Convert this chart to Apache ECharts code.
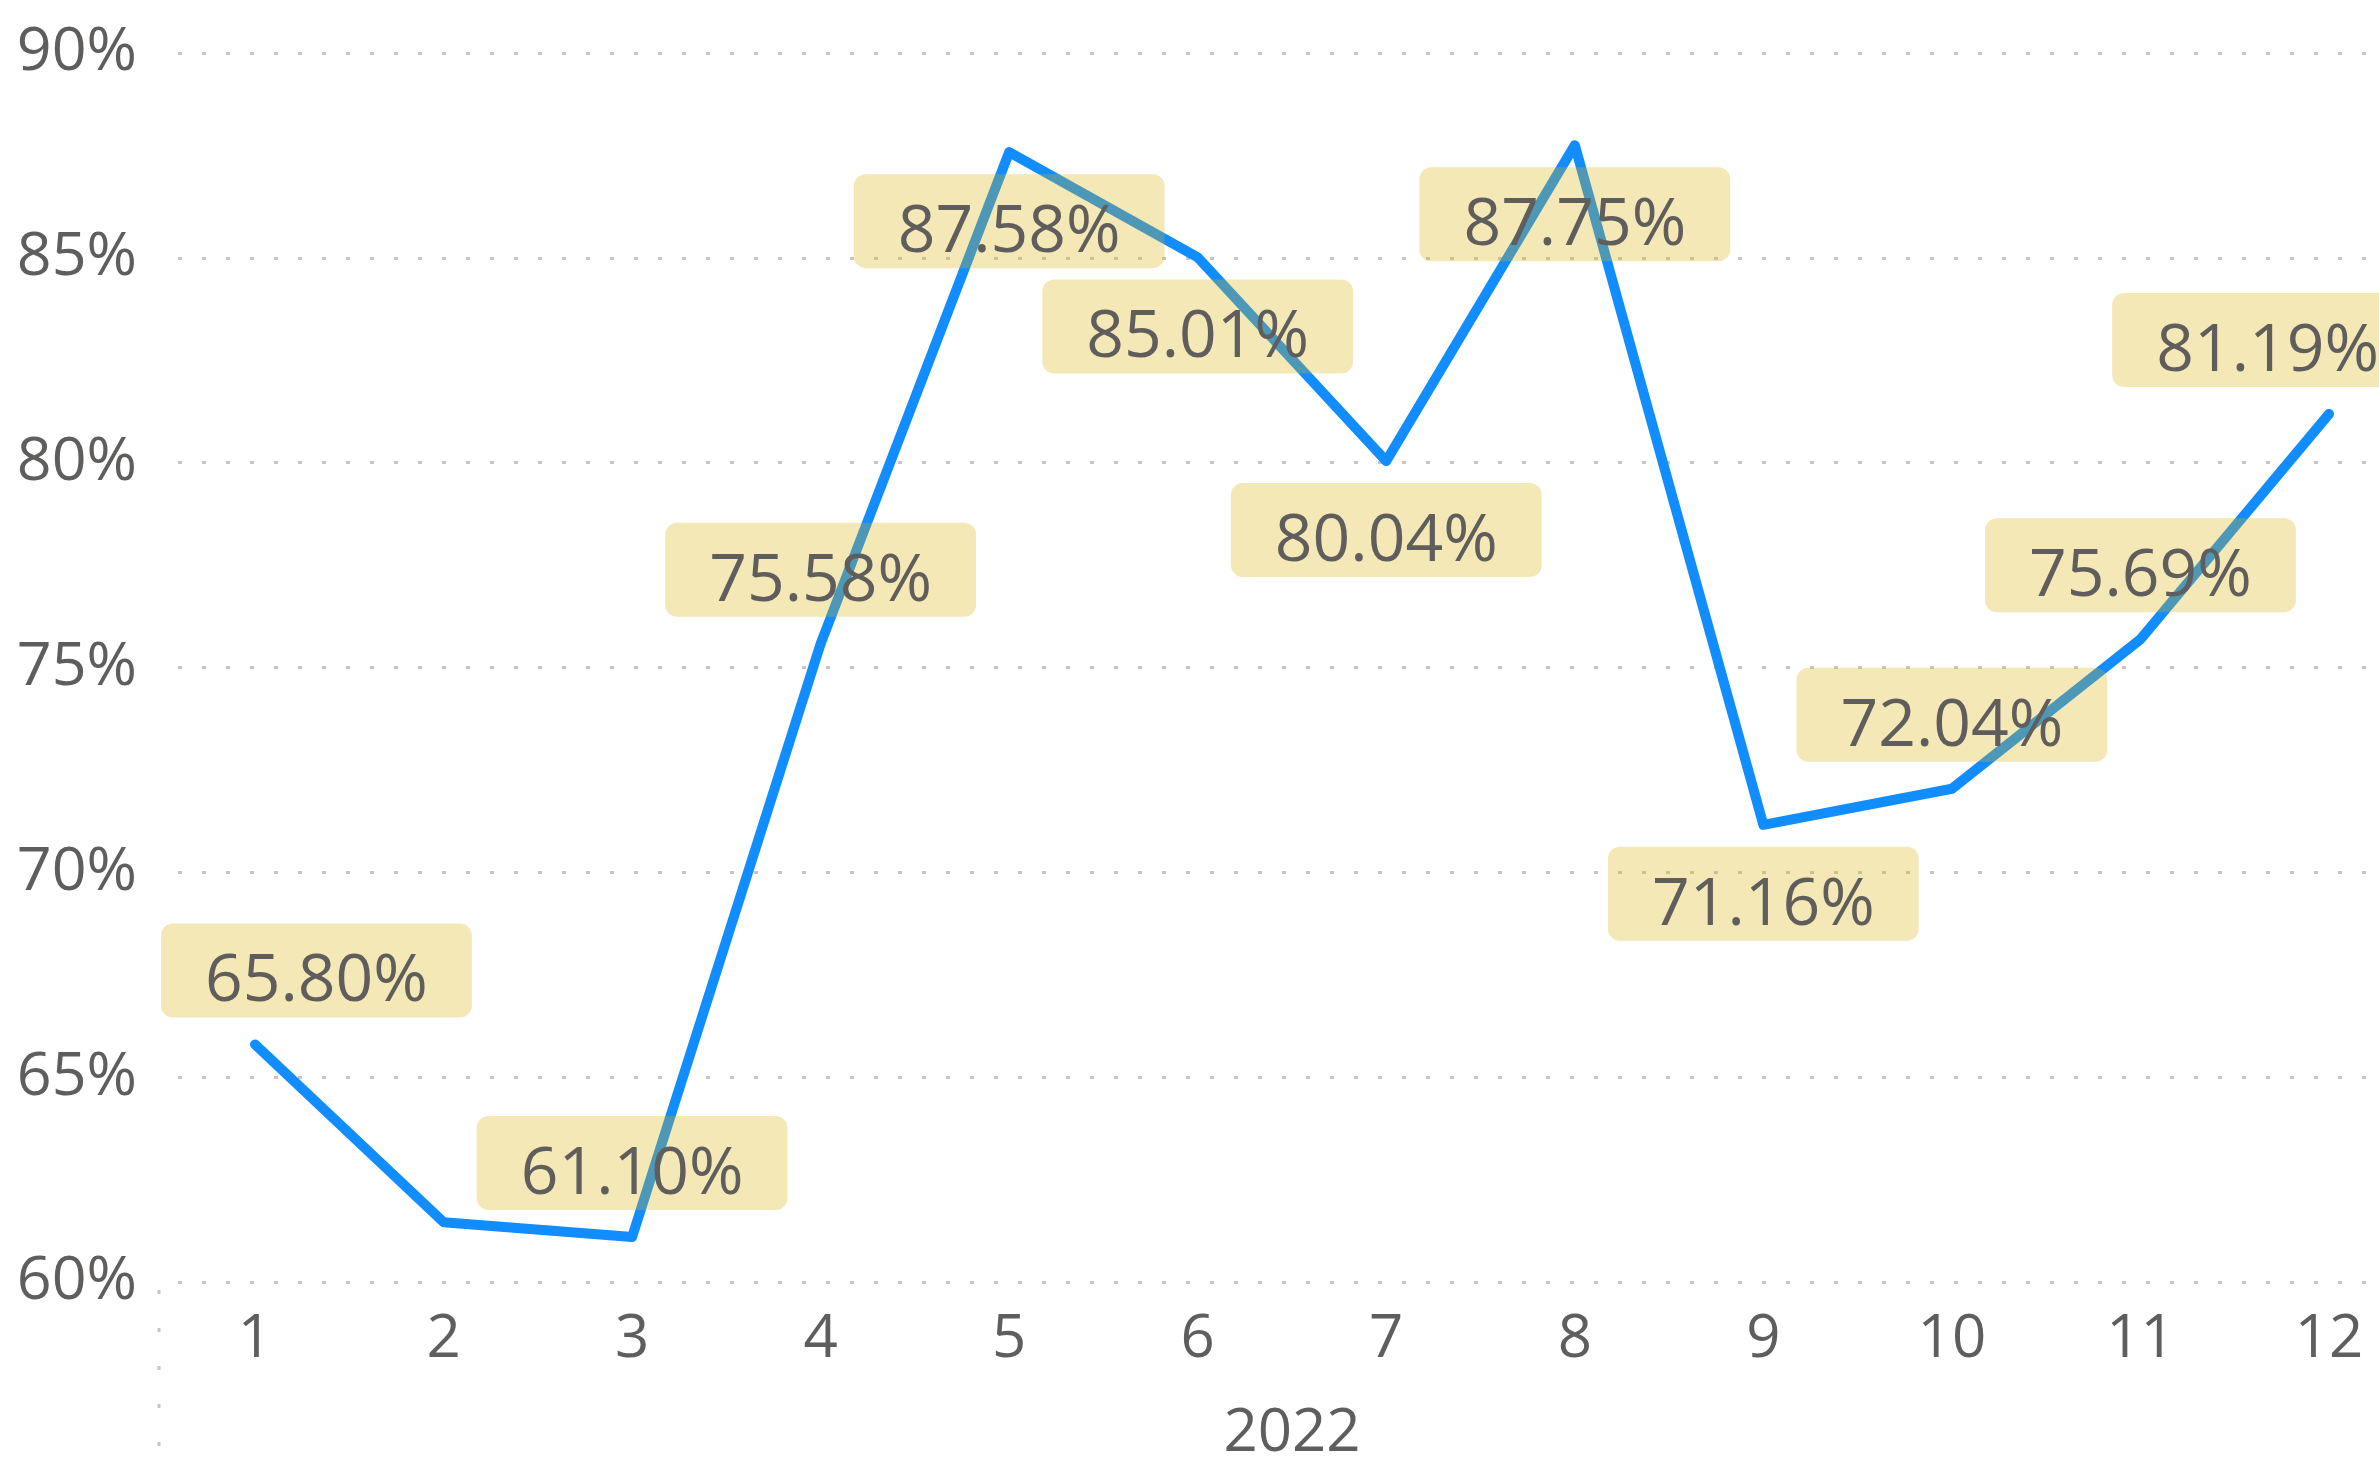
<!DOCTYPE html>
<html>
<head>
<meta charset="utf-8">
<title>2022 monthly rate</title>
<script src="https://cdn.jsdelivr.net/npm/echarts@6/dist/echarts.min.js"></script>
<style>
  html, body { margin: 0; padding: 0; background: #ffffff; }
  #chart { width: 2379px; height: 1458px; }
</style>
</head>
<body>
<div id="chart"></div>
<script>
// Months of 2022 on the category axis
const months = ['1', '2', '3', '4', '5', '6', '7', '8', '9', '10', '11', '12'];
// Monthly rate, in percent
const rates = [65.80, 61.46, 61.10, 75.58, 87.58, 85.01, 80.04, 87.75, 71.16, 72.04, 75.69, 81.19];
// Value axis range and step, in percent
const yMin = 60;
const yMax = 90;
const yStep = 5;
const yearName = '2022';

// Label placement: which months put their label under the line, and which hide it
const labelsBelow = ['5', '6', '7', '8', '9'];
const labelsHidden = ['2'];

const TEXT = '#605E5C';
const FONT = '"Segoe UI", "Open Sans", "Noto Sans", sans-serif';
// labels are kept inside the month bands of the plot
const bandLeft = 161;
const bandRight = 2423;

const chart = echarts.init(document.getElementById('chart'), null, { renderer: 'canvas' });

const seriesData = rates.map(function (v, i) {
  const below = labelsBelow.indexOf(months[i]) >= 0;
  const hidden = labelsHidden.indexOf(months[i]) >= 0;
  return {
    value: v,
    label: {
      show: !hidden,
      position: below ? 'bottom' : 'top',
      distance: below ? 22 : 27
    }
  };
});

const option = {
  backgroundColor: '#ffffff',
  animation: false,
  grid: [
    // frame carrying the value labels and dotted gridlines
    { left: 178, right: 0, top: 53, bottom: 176, containLabel: false, outerBoundsMode: 'none' },
    // plotting frame, from the first month to the last
    { left: 255, right: 50, top: 53, bottom: 176, containLabel: false, outerBoundsMode: 'none' }
  ],
  xAxis: [
    { gridIndex: 0, type: 'value', min: 0, max: 1, show: false },
    {
      gridIndex: 1,
      type: 'category',
      data: months,
      boundaryGap: false,
      axisLine: { show: false },
      axisTick: { show: false },
      splitLine: { show: false },
      axisLabel: { color: TEXT, fontFamily: FONT, fontSize: 60, margin: 28 },
      name: yearName,
      nameLocation: 'middle',
      nameGap: 122,
      nameTextStyle: { color: TEXT, fontFamily: FONT, fontSize: 60 }
    }
  ],
  yAxis: [
    {
      gridIndex: 0,
      type: 'value',
      min: yMin,
      max: yMax,
      interval: yStep,
      axisLine: { show: false },
      axisTick: { show: false },
      axisLabel: {
        color: TEXT, fontFamily: FONT, fontSize: 61, margin: 41,
        formatter: '{value}%'
      },
      splitLine: {
        show: true,
        lineStyle: { color: '#C8C6C4', width: 3, type: [4, 20] }
      }
    },
    { gridIndex: 1, type: 'value', min: yMin, max: yMax, interval: yStep, show: false }
  ],
  series: [
    {
      type: 'line',
      xAxisIndex: 1,
      yAxisIndex: 1,
      data: seriesData,
      symbol: 'circle',
      symbolSize: 0,
      showSymbol: true,
      lineStyle: { color: '#118DFF', width: 10, cap: 'round', join: 'round' },
      itemStyle: { color: '#118DFF' },
      label: {
        color: TEXT,
        fontFamily: FONT,
        fontSize: 66,
        lineHeight: 66,
        backgroundColor: 'rgba(214,178,12,0.3)',
        borderRadius: 12,
        padding: [26, 44, 2, 44],
        formatter: function (p) { return p.value.toFixed(2) + '%'; }
      },
      labelLayout: function (p) {
        const r = p.labelRect;
        let dx = 0;
        if (r.x < bandLeft) dx = bandLeft - r.x;
        else if (r.x + r.width > bandRight) dx = bandRight - (r.x + r.width);
        return { dx: dx, hideOverlap: false };
      },
      z: 3
    }
  ],
  graphic: [
    {
      type: 'line',
      shape: { x1: 159, y1: 1290, x2: 159, y2: 1458 },
      style: { stroke: '#C8C6C4', lineWidth: 3, lineDash: [4, 34] },
      silent: true
    }
  ]
};

chart.setOption(option);
</script>
</body>
</html>
